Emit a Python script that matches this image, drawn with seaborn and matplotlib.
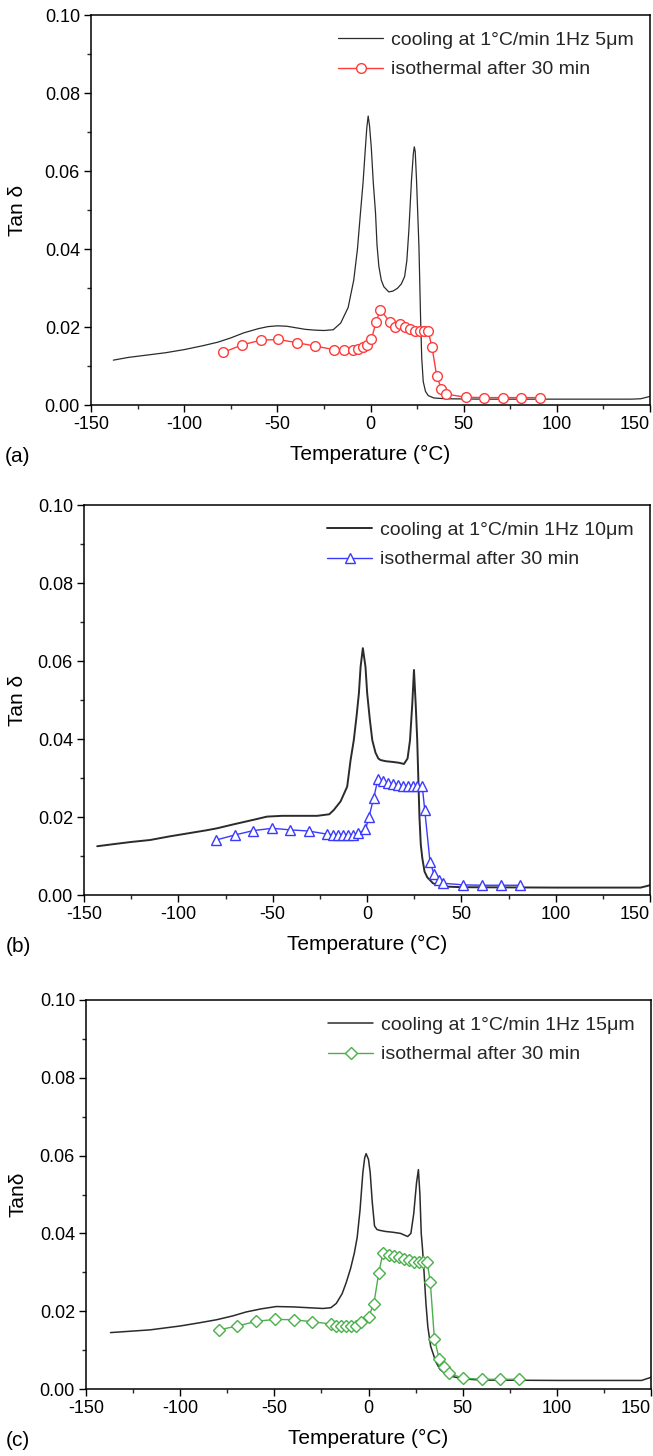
import matplotlib
matplotlib.use("Agg")
import matplotlib.pyplot as plt
import seaborn as sns
from matplotlib.ticker import MultipleLocator, FormatStrFormatter

# ---------------- data ----------------
# panel (a) 5 um
cool_a_T = [-138, -130, -120, -110, -100, -90, -82, -75, -68, -60, -55, -50, -45, -40, -35,
            -30, -25, -20, -16, -12, -9, -7, -5.4, -4, -2.7, -2, -1.25, -0.5, 0.4, 1.5,
            2.7, 3.5, 4.5, 5.8, 7.2, 9.8, 12, 14.4, 16.5, 18.3, 19.5, 20.6, 22.0, 23.0, 23.5,
            24.0, 24.7, 26.0, 26.9, 27.5, 28.3, 29.5, 31, 34, 40, 60, 100, 140, 145, 150]
cool_a_v = [0.0115, 0.0122, 0.0128, 0.0134, 0.0142, 0.0152, 0.0161, 0.0172, 0.0185, 0.0196,
            0.0201, 0.0203, 0.0202, 0.0198, 0.0194, 0.0192, 0.0191, 0.0193, 0.0210, 0.0250,
            0.0320, 0.0400, 0.0492, 0.0570, 0.0662, 0.0710, 0.0741, 0.0715, 0.0662, 0.0570,
            0.0492, 0.0410, 0.0355, 0.0320, 0.0303, 0.0290, 0.0292, 0.0299, 0.0310, 0.0329,
            0.0370, 0.0449, 0.0577, 0.0645, 0.0662, 0.0650, 0.0577, 0.0406, 0.0218, 0.0120,
            0.0060, 0.0035, 0.0024, 0.0018, 0.0016, 0.0015, 0.0015, 0.0015, 0.0016, 0.0022]
iso_a_T = [-79, -69, -59, -49.5, -39.7, -29.7, -19.5, -14.3, -9.3, -6.5, -3.9, -1.8, 0.5, 3.0,
           5.3, 10.3, 13.4, 15.7, 18.4, 21.0, 23.7, 26.4, 28.6, 30.9, 33.0, 35.5, 38, 40.5,
           51, 61, 71, 81, 91]
iso_a_v = [0.0135, 0.0154, 0.0166, 0.0168, 0.0160, 0.0151, 0.0142, 0.0141, 0.0141, 0.0144,
           0.0148, 0.0153, 0.0168, 0.0214, 0.0244, 0.0214, 0.0200, 0.0207, 0.0200, 0.0194,
           0.0190, 0.0190, 0.0190, 0.0190, 0.0149, 0.0075, 0.0042, 0.0028, 0.0020, 0.0019,
           0.0019, 0.0019, 0.0019]

# panel (b) 10 um
cool_b_T = [-143, -135, -125, -115, -105, -95, -85, -79.5, -70, -60, -53, -45, -35, -26.4, -20,
            -17.6, -14, -10.5, -8.7, -7.0, -5.5, -4.3, -3.4, -2.2, -0.8, 0.1, 1.5, 2.8, 4.5, 6,
            7.2, 10, 14, 17, 19.6, 21.5, 22.8, 24, 24.9, 25.8, 26.6, 27.2, 27.8, 28.5, 29.3,
            30.5, 32, 35, 40, 50, 100, 145, 150]
cool_b_v = [0.0125, 0.0130, 0.0136, 0.0141, 0.0150, 0.0158, 0.0166, 0.0171, 0.0182, 0.0193,
            0.0201, 0.0203, 0.0203, 0.0203, 0.0207, 0.0218, 0.0240, 0.0278, 0.0346, 0.0397,
            0.0460, 0.0517, 0.0585, 0.0633, 0.0585, 0.0517, 0.0450, 0.0397, 0.0365, 0.0350,
            0.0346, 0.0343, 0.0341, 0.0339, 0.0336, 0.0350, 0.0397, 0.0490, 0.0577, 0.0490,
            0.0400, 0.0300, 0.0200, 0.0130, 0.0095, 0.0060, 0.0045, 0.0030, 0.0022, 0.0020,
            0.0019, 0.0019, 0.0025]
iso_b_T = [-80, -70, -60.4, -50.3, -40.6, -30.9, -21.1, -18.1, -15.3, -12.6, -10.0, -7.3, -4.9,
           -0.8, 1.0, 3.6, 5.8, 8.4, 11.1, 13.7, 16.4, 19.0, 21.7, 24.3, 26.7, 29.3, 30.6,
           33.4, 35.5, 38, 40.5, 51, 61, 71, 81]
iso_b_v = [0.0141, 0.0154, 0.0165, 0.0171, 0.0167, 0.0164, 0.0156, 0.0154, 0.0154, 0.0154,
           0.0154, 0.0155, 0.0158, 0.0168, 0.0199, 0.0250, 0.0297, 0.0293, 0.0288, 0.0285,
           0.0282, 0.0280, 0.0279, 0.0279, 0.0279, 0.0279, 0.0218, 0.0085, 0.0054, 0.0038,
           0.0030, 0.0026, 0.0025, 0.0025, 0.0025]

# panel (c) 15 um
cool_c_T = [-137, -125, -116, -100, -90, -80.7, -72, -65, -57, -48.9, -40, -32, -24.2, -20,
            -17.1, -14, -11.8, -9.5, -7.5, -6, -4.5, -3, -2, -1.25, 0, 0.9, 2, 3.2, 4.5, 5.8,
            9, 12.9, 17, 20.8, 22.5, 24, 25.5, 26.5, 27.3, 28, 28.7, 29.5, 30.5, 31.5, 33,
            35.8, 38, 42, 50, 60, 100, 145, 150]
cool_c_v = [0.0145, 0.0149, 0.0152, 0.0162, 0.0170, 0.0178, 0.0188, 0.0198, 0.0206, 0.0212,
            0.0211, 0.0209, 0.0207, 0.0209, 0.0220, 0.0245, 0.0274, 0.0310, 0.0350, 0.0390,
            0.0460, 0.0556, 0.0595, 0.0605, 0.0590, 0.0556, 0.0480, 0.0419, 0.0410, 0.0408,
            0.0405, 0.0403, 0.0400, 0.0392, 0.0400, 0.0450, 0.0530, 0.0564, 0.0500, 0.0400,
            0.0359, 0.0300, 0.0220, 0.0160, 0.0110, 0.0069, 0.0050, 0.0035, 0.0026, 0.0023,
            0.0022, 0.0022, 0.0030]
iso_c_T = [-79.5, -69.6, -59.5, -49.5, -39.8, -29.9, -19.8, -17.1, -14.5, -11.8, -9.2, -6.5,
           -3.9, 0.0, 2.8, 5.4, 7.6, 10.7, 13.4, 16.0, 18.7, 21.3, 24.0, 26.6, 28.7, 31.1,
           32.8, 35.0, 37.6, 40.3, 43, 50, 60, 70, 80]
iso_c_v = [0.0152, 0.0162, 0.0174, 0.0179, 0.0178, 0.0173, 0.0167, 0.0162, 0.0162, 0.0162,
           0.0162, 0.0163, 0.0171, 0.0186, 0.0218, 0.0297, 0.0349, 0.0344, 0.0342, 0.0339,
           0.0335, 0.0331, 0.0326, 0.0326, 0.0326, 0.0326, 0.0276, 0.0128, 0.0077, 0.0056,
           0.0040, 0.0028, 0.0025, 0.0025, 0.0025]

cool_labels = ["cooling at 1°C/min 1Hz 5μm", "cooling at 1°C/min 1Hz 10μm",
               "cooling at 1°C/min 1Hz 15μm"]
iso_label = "isothermal after 30 min"
ylabels = ["Tan δ", "Tan δ", "Tanδ"]
panel_tags = ["(a)", "(b)", "(c)"]
x_ticks = [-150, -100, -50, 0, 50, 100, 150]
y_ticks = [0.00, 0.02, 0.04, 0.06, 0.08, 0.10]

# ---------------- style ----------------
sns.set_theme(style="ticks")
plt.rcParams["font.family"] = ["Liberation Sans", "DejaVu Sans"]
plt.rcParams["axes.unicode_minus"] = False

W, H = 653, 1456
fig = plt.figure(figsize=(W / 100, H / 100), dpi=100)

boxes = [(91, 650, 15, 405), (84, 650, 505, 895), (86, 651, 1000, 1389)]
iso_styles = [("#ff3b3b", "o", 7.0), ("#3a3aff", "^", 7.5), ("#4bb04b", "D", 6.0)]
cool_lw = [0.9, 1.4, 1.1]
datasets = [(cool_a_T, cool_a_v, iso_a_T, iso_a_v),
            (cool_b_T, cool_b_v, iso_b_T, iso_b_v),
            (cool_c_T, cool_c_v, iso_c_T, iso_c_v)]

for i, ((l, r, t, b), (cT, cv, iT, iv)) in enumerate(zip(boxes, datasets)):
    ax = fig.add_axes([l / W, 1 - b / H, (r - l) / W, (b - t) / H])
    col, mk, ms = iso_styles[i]
    sns.lineplot(x=cT, y=cv, ax=ax, color="#2b2b2b", lw=cool_lw[i], sort=False,
                 estimator=None, label=cool_labels[i])
    sns.lineplot(x=iT, y=iv, ax=ax, color=col, lw=1.0, sort=False, estimator=None,
                 marker=mk, markersize=ms, markerfacecolor="white",
                 markeredgecolor=col, markeredgewidth=1.0, label=iso_label)
    ax.set_xlim(-150, 150)
    ax.set_ylim(0, 0.10)
    ax.set_xticks(x_ticks, labels=[str(v) for v in x_ticks])
    ax.set_yticks(y_ticks)
    ax.xaxis.set_minor_locator(MultipleLocator(25))
    ax.yaxis.set_minor_locator(MultipleLocator(0.01))
    ax.yaxis.set_major_formatter(FormatStrFormatter("%.2f"))
    ax.tick_params(axis="both", which="major", direction="out", length=5, width=1,
                   labelsize=13, colors="black", pad=3, top=False, right=False)
    ax.tick_params(axis="both", which="minor", direction="out", length=3, width=1,
                   top=False, right=False)
    ax.get_xticklabels()[-1].set_horizontalalignment("right")
    for s in ax.spines.values():
        s.set_visible(True)
        s.set_color("black")
        s.set_linewidth(1.1)
    ax.set_xlabel("Temperature (°C)", fontsize=15, color="black")
    ax.set_ylabel(ylabels[i], fontsize=15, color="black")
    hgt = b - t
    ax.xaxis.set_label_coords(0.5, -40 / hgt)
    ax.yaxis.set_label_coords((27 - l) / (r - l), 0.5)
    ax.grid(False)
    ax.legend(loc="upper right", frameon=False, fontsize=14, handlelength=2.3,
              handletextpad=0.4, labelspacing=0.6, borderaxespad=0.45)
    fig.text(18 / W, 1 - (b + 51) / H, panel_tags[i], fontsize=15, ha="center",
             va="center", color="black")

fig.savefig("out.png", dpi=100, facecolor="white")
